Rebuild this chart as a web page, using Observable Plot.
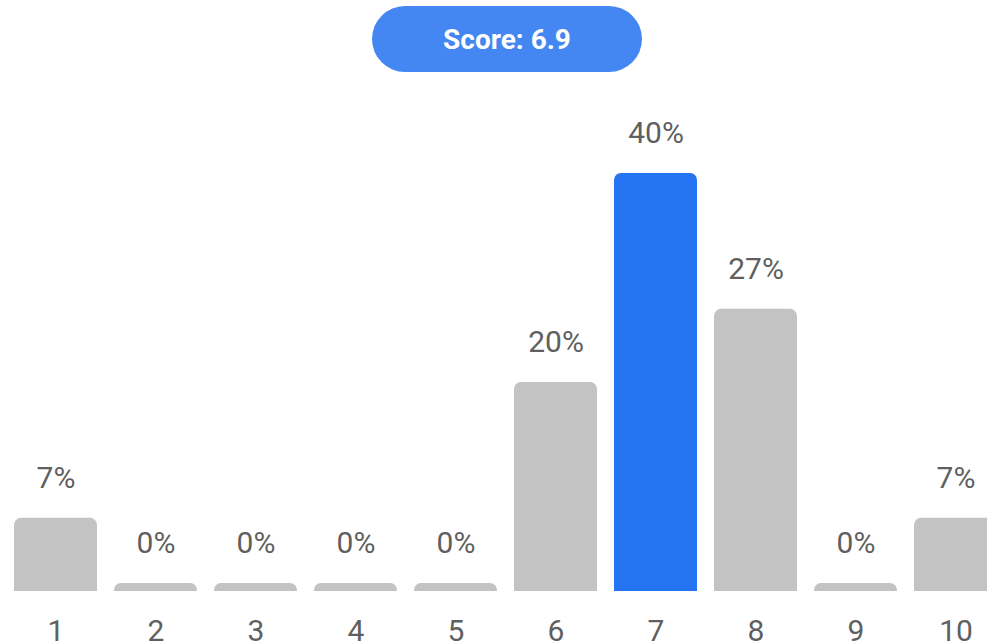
<!DOCTYPE html>
<html><head><meta charset="utf-8">
<script src="https://cdn.jsdelivr.net/npm/d3@7"></script>
<script src="https://cdn.jsdelivr.net/npm/@observablehq/plot@0.6"></script>
<style>
html,body{margin:0;padding:0;overflow:hidden;background:#fff;font-family:Roboto,sans-serif}
#wrap{position:relative;width:987px;height:644px}
#pill{position:absolute;left:372px;top:6px;width:270px;height:66px;border-radius:33px;background:#4487f2;color:#fff;font:700 28px Roboto,sans-serif;display:flex;align-items:center;justify-content:center}
</style></head>
<body><div id="wrap"><div id="pill"></div></div>
<script>
const scores = ["1","2","3","4","5","6","7","8","9","10"];
const percents = [7,0,0,0,0,20,40,27,0,7];
const scoreText = "Score: 6.9";
const highlight = "7";

const minShown = 0.77;
const data = scores.map((s,i)=>({score:s, pct:percents[i], shown:Math.max(percents[i],minShown)}));
document.getElementById("pill").textContent = scoreText;

const chart = Plot.plot({
  width: 987, height: 644,
  marginLeft: 0, marginRight: 0, marginTop: 0, marginBottom: 53,
  style: {fontFamily: "Roboto, sans-serif", background: "transparent", overflow: "visible"},
  x: {domain: scores, range: [14, 997], paddingInner: 0.17, paddingOuter: 0, align: 0, axis: null},
  y: {domain: [0, 40], range: [591, 173], axis: null},
  marks: [
    Plot.rect(data, {x: "score", y1: -0.7, y2: "shown", rx: 7,
      fill: d => d.score === highlight ? "#2574f2" : "#c3c3c3", clip: true}),
    Plot.text(data, {x: "score", y: "shown", text: d => d.pct + "%", dy: -40,
      fontSize: 30, fill: "#5f5f5f"}),
    Plot.axisX({domain: scores, tickSize: 0, tickPadding: 28, fontSize: 30, color: "#5f5f5f", label: null})
  ]
});
document.getElementById("wrap").appendChild(chart);
</script></body></html>
